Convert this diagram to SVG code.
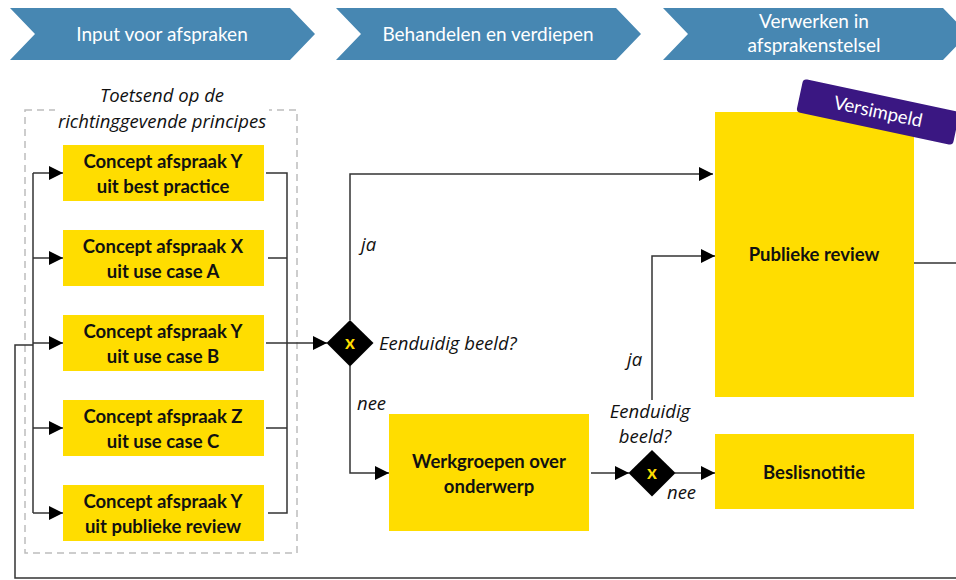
<svg xmlns="http://www.w3.org/2000/svg" width="956" height="580" viewBox="0 0 956 580">
<defs>
<marker id="arr" markerUnits="userSpaceOnUse" markerWidth="14" markerHeight="14" refX="14" refY="7" orient="auto">
<path d="M0,0 L14,7 L0,14 Z" fill="#000"/>
</marker>
<style>
.chev{fill:#4787B2}
.htxt{font-family:Lato,"Open Sans",sans-serif;font-size:19px;fill:#fff;text-anchor:middle}
.box{fill:#FFDD00}
.btxt{font-family:Lato,"Liberation Sans",sans-serif;font-size:18.5px;font-weight:bold;fill:#111;text-anchor:middle}
.lbl{font-family:"Open Sans",Lato,sans-serif;font-size:18.5px;font-style:italic;fill:#111}
.con{fill:none;stroke:#333;stroke-width:1.5}
.dia{fill:#000}
.dx{font-family:Lato,"Liberation Sans",sans-serif;font-size:19px;font-weight:bold;fill:#FFDD00;text-anchor:middle}
</style>
</defs>
<rect width="956" height="580" fill="#fff"/>

<g id="header1"><polygon class="chev" points="10,8 290,8 315,34 290,60 10,60 35,34"/><text class="htxt" x="162" y="41">Input voor afspraken</text></g>
<g id="header2"><polygon class="chev" points="336,8 616,8 641,34 616,60 336,60 361,34"/><text class="htxt" x="488" y="41">Behandelen en verdiepen</text></g>
<g id="header3"><polygon class="chev" points="663,8 943,8 968,34 943,60 663,60 688,34"/><text class="htxt" x="814" y="28">Verwerken in</text><text class="htxt" x="814" y="52">afsprakenstelsel</text></g>

<g id="group-principes">
<rect x="25" y="110" width="272" height="443" fill="none" stroke="#BDBDBD" stroke-width="1.5" stroke-dasharray="7,5"/>
<rect x="55" y="104" width="214" height="28" fill="#fff"/>
<text class="lbl" x="162" y="102" text-anchor="middle">Toetsend op de</text>
<text class="lbl" x="162" y="128" text-anchor="middle">richtinggevende principes</text>
</g>

<g id="connectors">
<path class="con" d="M956,578 H15 V345 H33"/>
<path class="con" d="M33,173 V513"/>
<path class="con" d="M33,173 H63" marker-end="url(#arr)"/>
<path class="con" d="M33,258 H63" marker-end="url(#arr)"/>
<path class="con" d="M33,343 H63" marker-end="url(#arr)"/>
<path class="con" d="M33,428 H63" marker-end="url(#arr)"/>
<path class="con" d="M33,513 H63" marker-end="url(#arr)"/>
<path class="con" d="M266,173 H287 V513 H268"/>
<path class="con" d="M268,258 H287"/>
<path class="con" d="M266,428 H287"/>
<path class="con" d="M266,343 H327" marker-end="url(#arr)"/>
<path class="con" d="M350,320 V174 H713" marker-end="url(#arr)"/>
<path class="con" d="M350,366 V473 H389" marker-end="url(#arr)"/>
<path class="con" d="M591,473 H629" marker-end="url(#arr)"/>
<path class="con" d="M675,473 H715" marker-end="url(#arr)"/>
<path class="con" d="M652,400 V256 H715" marker-end="url(#arr)"/>
<path class="con" d="M914,263 H956"/>
</g>

<g id="n1"><rect class="box" x="63" y="145" width="201" height="56"/><text class="btxt" x="163" y="168">Concept afspraak Y</text><text class="btxt" x="163" y="193">uit best practice</text></g>
<g id="n2"><rect class="box" x="63" y="230" width="201" height="56"/><text class="btxt" x="163" y="253">Concept afspraak X</text><text class="btxt" x="163" y="278">uit use case A</text></g>
<g id="n3"><rect class="box" x="63" y="315" width="201" height="56"/><text class="btxt" x="163" y="338">Concept afspraak Y</text><text class="btxt" x="163" y="363">uit use case B</text></g>
<g id="n4"><rect class="box" x="63" y="400" width="201" height="56"/><text class="btxt" x="163" y="423">Concept afspraak Z</text><text class="btxt" x="163" y="448">uit use case C</text></g>
<g id="n5"><rect class="box" x="63" y="485" width="201" height="56"/><text class="btxt" x="163" y="508">Concept afspraak Y</text><text class="btxt" x="163" y="533">uit publieke review</text></g>

<g id="gate1"><polygon class="dia" points="350,320 373.5,343 350,366.5 326.5,343"/><text class="dx" x="350" y="349">x</text>
<text class="lbl" x="379" y="350">Eenduidig beeld?</text>
<text class="lbl" x="361" y="251">ja</text>
<text class="lbl" x="357" y="410">nee</text></g>

<g id="werkgroepen"><rect class="box" x="389" y="414" width="200" height="117"/><text class="btxt" x="489" y="468">Werkgroepen over</text><text class="btxt" x="489" y="493">onderwerp</text></g>

<g id="gate2"><polygon class="dia" points="652,450 675.5,473 652,496.5 628.5,473"/><text class="dx" x="652" y="479">x</text>
<rect x="604" y="401" width="96" height="46" fill="#fff" fill-opacity="0.85"/>
<text class="lbl" x="650" y="418" text-anchor="middle">Eenduidig</text>
<text class="lbl" x="645" y="443" text-anchor="middle">beeld?</text>
<text class="lbl" x="627" y="366">ja</text>
<text class="lbl" x="667" y="499">nee</text></g>

<g id="publieke-review"><rect class="box" x="715" y="112" width="199" height="285"/><text class="btxt" x="814" y="261">Publieke review</text></g>

<g id="beslisnotitie"><rect class="box" x="715" y="434" width="199" height="75"/><text class="btxt" x="814" y="479">Beslisnotitie</text></g>

<g id="versimpeld" transform="translate(878,112) rotate(12)"><rect x="-80" y="-17" width="160" height="34" rx="4" fill="#3A1782"/><text x="0" y="6" font-family="Lato,'Open Sans',sans-serif" font-size="18.5" fill="#fff" text-anchor="middle">Versimpeld</text></g>
</svg>
